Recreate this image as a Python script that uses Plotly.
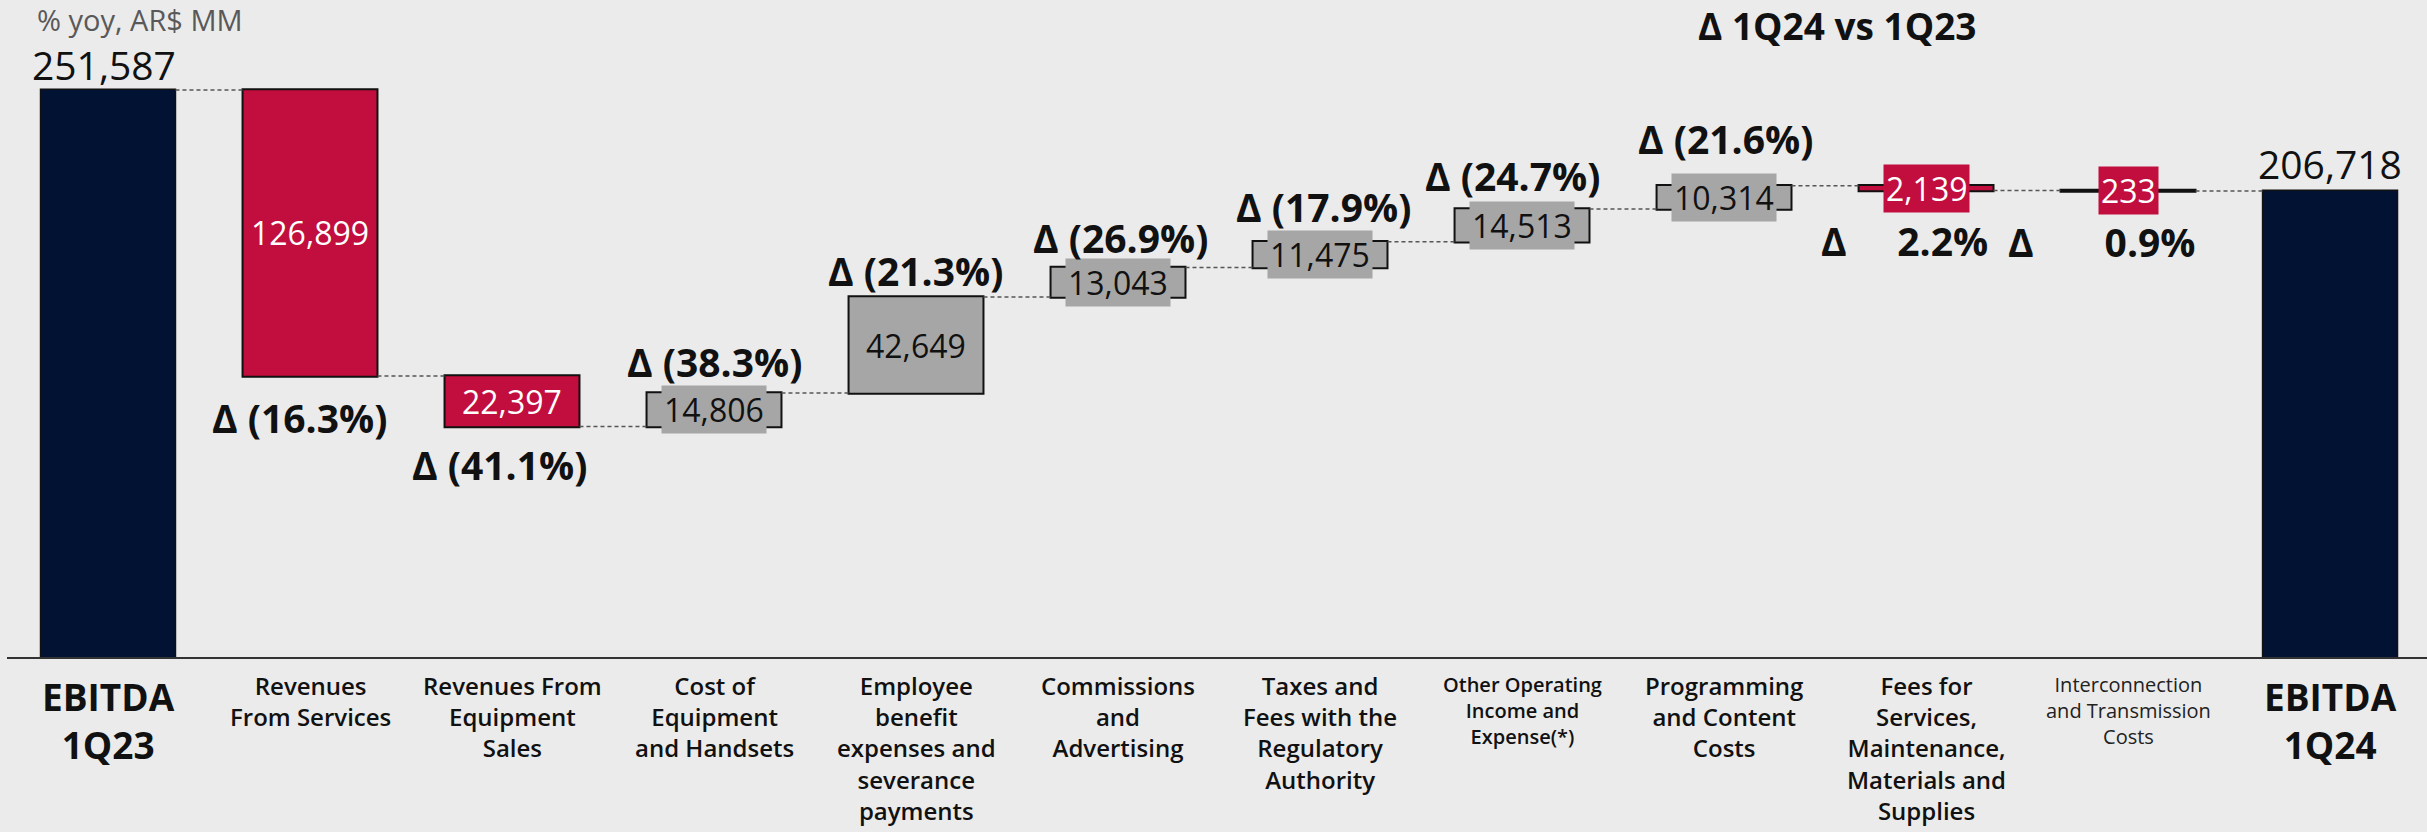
import plotly.graph_objects as go

# EBITDA bridge, 1Q23 -> 1Q24 (AR$ MM)
categories = [
    "EBITDA<br>1Q23",
    "Revenues<br>From Services",
    "Revenues From<br>Equipment<br>Sales",
    "Cost of<br>Equipment<br>and Handsets",
    "Employee<br>benefit<br>expenses and<br>severance<br>payments",
    "Commissions<br>and<br>Advertising",
    "Taxes and<br>Fees with the<br>Regulatory<br>Authority",
    "Other Operating<br>Income and<br>Expense(*)",
    "Programming<br>and Content<br>Costs",
    "Fees for<br>Services,<br>Maintenance,<br>Materials and<br>Supplies",
    "Interconnection<br>and Transmission<br>Costs",
    "EBITDA<br>1Q24",
]
measures = ["absolute"] + ["relative"] * 10 + ["absolute"]
values = [251587, -126899, -22397, 14806, 42649, 13043, 11475, 14513, 10314, -2139, -233, 206718]
value_labels = ["251,587", "126,899", "22,397", "14,806", "42,649", "13,043",
                "11,475", "14,513", "10,314", "2,139", "233", "206,718"]
pct_labels = [None, "Δ (16.3%)", "Δ (41.1%)", "Δ (38.3%)", "Δ (21.3%)", "Δ (26.9%)",
              "Δ (17.9%)", "Δ (24.7%)", "Δ (21.6%)", "Δ\u00a0\u00a0\u00a0\u00a0\u00a02.2%",
              "Δ\u00a0\u00a0\u00a0\u00a0\u00a0\u00a0\u00a00.9%", None]

NAVY = "#021233"
RED = "#C20E3E"
GREY = "#A6A6A6"
BG = "#EBEBEB"
FONT = "Open Sans"

x = list(range(len(values)))

# running levels for each bar (start, end)
starts, ends = [], []
level = 0
for m, v in zip(measures, values):
    if m == "absolute":
        starts.append(0)
        level = v
    else:
        starts.append(level)
        level = level + v
    ends.append(level)

fig = go.Figure(go.Waterfall(
    x=x,
    y=values,
    measure=measures,
    width=0.668,
    increasing=dict(marker=dict(color=GREY, line=dict(color="#111111", width=2))),
    decreasing=dict(marker=dict(color=RED, line=dict(color="#111111", width=2))),
    totals=dict(marker=dict(color=NAVY, line=dict(color="#111111", width=1.5))),
    connector=dict(mode="between", line=dict(color="#555555", width=1.5, dash="4px,3px")),
    cliponaxis=False,
    hoverinfo="skip",
))

annotations = []

# value labels
for i, (m, v) in enumerate(zip(measures, values)):
    if m == "absolute":
        annotations.append(dict(
            x=i, y=ends[i], xref="x", yref="y", text=value_labels[i],
            showarrow=False, yanchor="bottom", yshift=-3 if i == 0 else -1,
            xshift=-4 if i == 0 else 0,
            font=dict(family=FONT, size=39, color="#111111"),
        ))
    else:
        col = RED if v < 0 else GREY
        annotations.append(dict(
            x=i, y=(starts[i] + ends[i]) / 2, xref="x", yref="y", text=value_labels[i],
            showarrow=False, yanchor="middle", bgcolor=col, borderpad=2,
            font=dict(family=FONT, size=32, color="white" if v < 0 else "#111111"),
        ))

# yoy change labels: (dx px, dy px from bar end level)
pct_offsets = {1: (-11, -42), 2: (-13, -38), 3: (0, 32), 4: (-1, 26), 5: (2, 30),
               6: (3, 35), 7: (-10, 34), 8: (1, 47), 9: (-22, -50), 10: (-27, -50)}
for i, t in enumerate(pct_labels):
    if t is None:
        continue
    dx, dy = pct_offsets[i]
    annotations.append(dict(
        x=i, y=ends[i], xref="x", yref="y", text=t, showarrow=False,
        xshift=dx, yshift=dy, yanchor="middle",
        font=dict(family=FONT, size=39, color="#111111", weight="bold"),
    ))

# category labels under the axis
for i, c in enumerate(categories):
    if i in (0, len(categories) - 1):
        f = dict(family=FONT, size=37, color="#111111", weight="bold")
        shift = -12
    elif i == 7:
        f = dict(family=FONT, size=20, color="#111111", weight=600)
        shift = -12
    elif i == 10:
        f = dict(family=FONT, size=20, color="#222222", weight=400)
        shift = -12
    else:
        f = dict(family=FONT, size=24, color="#111111", weight=600)
        shift = -10
    annotations.append(dict(
        x=i, y=0, xref="x", yref="paper", text=c, showarrow=False,
        yanchor="top", yshift=shift, align="center", font=f,
    ))

# header texts
annotations.append(dict(
    x=0, y=1, xref="paper", yref="paper", text="% yoy, AR$ MM", showarrow=False,
    xanchor="left", yanchor="top", xshift=28, yshift=2,
    font=dict(family=FONT, size=29, color="#595959"),
))
annotations.append(dict(
    x=0.698, y=1, xref="paper", yref="paper", text="Δ 1Q24 vs 1Q23", showarrow=False,
    xanchor="left", yanchor="top", yshift=2,
    font=dict(family=FONT, size=37, color="#111111", weight="bold"),
))

fig.update_layout(
    width=2427, height=832,
    margin=dict(l=7, r=0, t=0, b=175),
    paper_bgcolor=BG, plot_bgcolor=BG,
    showlegend=False,
    xaxis=dict(range=[-0.5, 11.48], showticklabels=False, showgrid=False, zeroline=False,
               showline=True, linecolor="#333333", linewidth=2, ticks=""),
    yaxis=dict(range=[0, 291520], visible=False, showgrid=False, zeroline=False),
    annotations=annotations,
)

fig.write_html("out.html")
